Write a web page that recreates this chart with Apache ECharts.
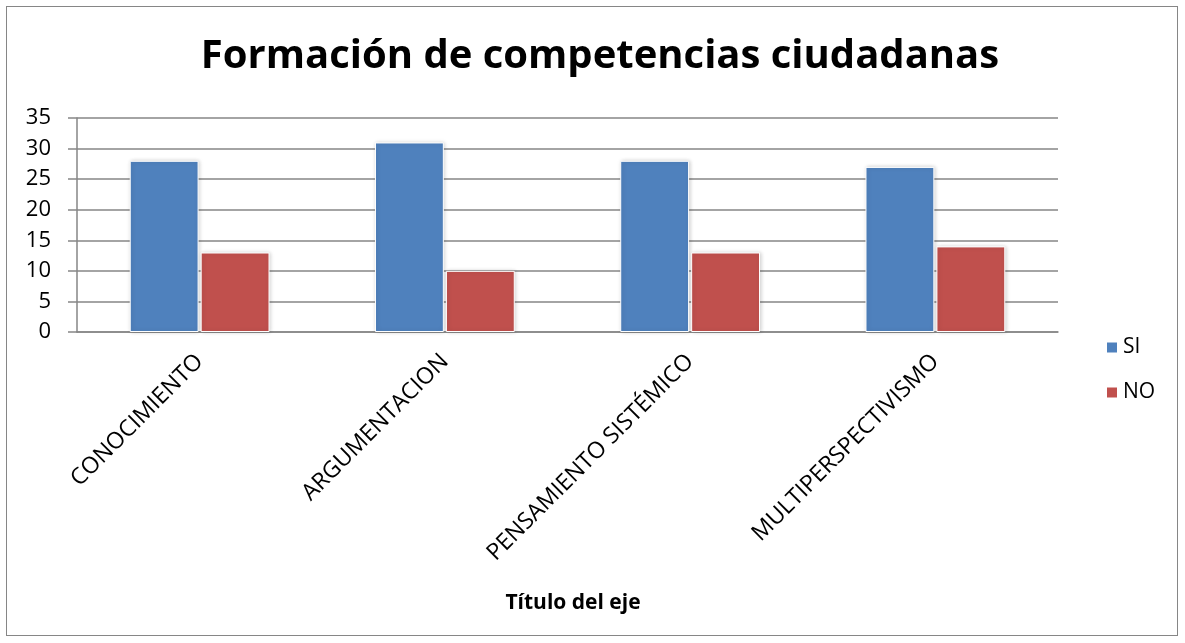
<!DOCTYPE html>
<html>
<head>
<meta charset="utf-8">
<script src="https://cdn.jsdelivr.net/npm/echarts@6/dist/echarts.min.js"></script>
<style>
  html, body { margin: 0; padding: 0; background: #fff; }
  #chart { width: 1185px; height: 643px; box-sizing: border-box; }
  #frame { position: absolute; left: 6px; top: 6px; width: 1172px; height: 630px; border: 1px solid #868686; box-sizing: border-box; pointer-events: none; }
</style>
</head>
<body>
<div id="chart"></div>
<div id="frame"></div>
<script>
// datos
const categories = ['CONOCIMIENTO', 'ARGUMENTACION', 'PENSAMIENTO SISTÉMICO', 'MULTIPERSPECTIVISMO']
const siValues = [28, 31, 28, 27]
const noValues = [13, 10, 13, 14]
const seriesNames = ['SI', 'NO']

const font = 'Open Sans, Liberation Sans, sans-serif'
const grey = '#868686'

const chart = echarts.init(document.getElementById('chart'))

chart.setOption({
  animation: false,
  title: [
    {
      text: 'Formación de competencias ciudadanas',
      left: 595,
      top: 32,
      textAlign: 'center',
      textStyle: { fontFamily: font, fontWeight: 'bold', fontSize: 40, color: '#000' }
    },
    {
      text: 'Título del eje',
      left: 568,
      top: 588,
      textAlign: 'center',
      textStyle: { fontFamily: font, fontWeight: 'bold', fontSize: 21, color: '#000' }
    }
  ],
  legend: {
    data: seriesNames,
    orient: 'vertical',
    left: 1100,
    top: 332,
    itemWidth: 12,
    itemHeight: 12,
    itemGap: 24,
    icon: 'rect',
    textStyle: { fontFamily: font, fontSize: 21, color: '#000' }
  },
  grid: {
    left: 77,
    right: 127,
    top: 118,
    bottom: 311,
    containLabel: false
  },
  xAxis: {
    type: 'category',
    data: categories,
    axisLine: { lineStyle: { color: grey, width: 1.5 } },
    axisTick: { show: false },
    axisLabel: {
      rotate: 45,
      margin: 26,
      fontFamily: font,
      fontSize: 23,
      color: '#000'
    }
  },
  yAxis: {
    type: 'value',
    min: 0,
    max: 35,
    interval: 5,
    axisLine: { show: true, lineStyle: { color: grey, width: 1.5 } },
    axisTick: { show: true, length: 9, lineStyle: { color: grey, width: 1.5 } },
    splitLine: { lineStyle: { color: grey, width: 1.5 } },
    axisLabel: { margin: 26, fontFamily: font, fontSize: 22, color: '#000' }
  },
  series: [
    {
      name: seriesNames[0],
      type: 'bar',
      data: siValues,
      barGap: '3%',
      barCategoryGap: '43%',
      itemStyle: {
        color: '#4F81BD',
        borderColor: '#fff',
        borderWidth: 1,
        shadowColor: 'rgba(0,0,0,0.18)',
        shadowBlur: 4,
        shadowOffsetX: 1
      }
    },
    {
      name: seriesNames[1],
      type: 'bar',
      data: noValues,
      itemStyle: {
        color: '#C0504D',
        borderColor: '#fff',
        borderWidth: 1,
        shadowColor: 'rgba(0,0,0,0.18)',
        shadowBlur: 4,
        shadowOffsetX: 1
      }
    }
  ]
})
</script>
</body>
</html>
